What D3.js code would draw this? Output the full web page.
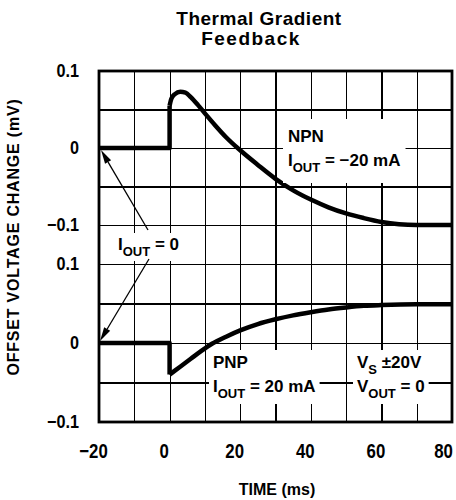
<!DOCTYPE html>
<html>
<head>
<meta charset="utf-8">
<script src="https://cdn.jsdelivr.net/npm/d3@7"></script>
<style>
body { margin: 0; background: #fff; }
svg { display: block; }
text { font-family: "Liberation Sans", Arial, sans-serif; font-weight: bold; fill: #000; }
.grid line { stroke: #000; stroke-width: 1.2; shape-rendering: crispEdges; }
.grid .domain { display: none; }
</style>
</head>
<body>
<div id="main"></div>
<script>
// tick and grid values
var xTicks = [-20, 0, 20, 40, 60, 80];
var xGrid = [-20, -10, 0, 10, 20, 30, 40, 50, 60, 70, 80];
var yTicks = [0.1, 0, -0.1];
var yGrid = [0.1, 0.05, 0, -0.05, -0.1];

// NPN, I_OUT = -20 mA (upper panel)
var npnStepTime = [-20, 0, 0];
var npnStepOffset = [0, 0, 0.055];
var npnTime = [0, 0.5, 1.5, 3, 4.5, 6, 8, 10, 13, 16, 20, 25, 30, 35, 40, 45, 50, 55, 60, 65, 70, 80];
var npnOffset = [0.055, 0.064, 0.07, 0.073, 0.072, 0.066, 0.056, 0.045, 0.029, 0.014, -0.003, -0.022, -0.04, -0.055, -0.067, -0.077, -0.085, -0.091, -0.096, -0.099, -0.1, -0.1];

// PNP, I_OUT = 20 mA (lower panel)
var pnpStepTime = [-20, 0, 0];
var pnpStepOffset = [0, 0, -0.04];
var pnpTime = [0, 3, 6, 9, 12, 16, 20, 25, 30, 35, 40, 45, 50, 55, 60, 70, 80];
var pnpOffset = [-0.04, -0.03, -0.02, -0.01, -0.001, 0.008, 0.016, 0.024, 0.03, 0.035, 0.039, 0.0425, 0.045, 0.047, 0.048, 0.049, 0.049];

var svg = d3.select("#main").append("svg")
	.attr("width", 456)
	.attr("height", 500);

var x = d3.scaleLinear().domain([-20, 80]).range([99, 452]);
var yTop = d3.scaleLinear().domain([-0.1, 0.1]).range([225, 71]);
var yBot = d3.scaleLinear().domain([-0.1, 0.1]).range([422, 264]);

var fmt = function(d) { return d < 0 ? "\u2212" + Math.abs(d) : String(d); };

// grid
svg.append("g").attr("class", "grid")
	.attr("transform", "translate(0,71)")
	.call(d3.axisBottom(x).tickValues(xGrid).tickSize(351).tickFormat(""));
[yTop, yBot].forEach(function(y) {
	svg.append("g").attr("class", "grid")
		.attr("transform", "translate(99,0)")
		.call(d3.axisRight(y).tickValues(yGrid).tickSize(353).tickFormat(""));
});

// frame
svg.append("rect")
	.attr("x", 99).attr("y", 71)
	.attr("width", 353).attr("height", 351)
	.attr("fill", "none").attr("stroke", "#000").attr("stroke-width", 2.8);

// tick labels (condensed look: squeeze horizontally)
[yTop, yBot].forEach(function(y) {
	var g = svg.append("g")
		.attr("transform", "translate(99,0)")
		.call(d3.axisLeft(y).tickValues(yTicks).tickSize(0).tickFormat(fmt));
	g.select(".domain").remove();
	g.selectAll("text")
		.style("font-size", "18px")
		.attr("x", -20 / 0.9)
		.attr("transform", "scale(0.9,1)");
});
var gx = svg.append("g")
	.attr("transform", "translate(0,422)")
	.call(d3.axisBottom(x).tickValues(xTicks).tickSize(0).tickPadding(21).tickFormat(fmt));
gx.select(".domain").remove();
gx.selectAll("text")
	.style("font-size", "21px")
	.attr("x", function(d) { return (d === 80 ? -9 : -6) / 0.8; })
	.attr("transform", "scale(0.8,1)");

// curves
function drawCurve(ts, vs, y, curve) {
	var pts = ts.map(function(t, i) { return [t, vs[i]]; });
	var line = d3.line()
		.x(function(d) { return x(d[0]); })
		.y(function(d) { return y(d[1]); })
		.curve(curve);
	svg.append("path")
		.attr("d", line(pts))
		.attr("fill", "none")
		.attr("stroke", "#000")
		.attr("stroke-width", 4.5)
		.attr("stroke-linejoin", "round");
}
drawCurve(npnStepTime, npnStepOffset, yTop, d3.curveLinear);
drawCurve(npnTime, npnOffset, yTop, d3.curveMonotoneX);
drawCurve(pnpStepTime, pnpStepOffset, yBot, d3.curveLinear);
drawCurve(pnpTime, pnpOffset, yBot, d3.curveMonotoneX);

// labels with white boxes
function label(px, py, lines, pad) {
	var g = svg.append("g");
	var bg = g.append("rect").attr("fill", "#fff");
	lines.forEach(function(parts, li) {
		var t = g.append("text")
			.attr("x", px).attr("y", py + li * 24)
			.style("font-size", "17px");
		var sub = false;
		parts.forEach(function(p) {
			var s = t.append("tspan").text(p.t);
			if (p.sub) {
				s.style("font-size", "13px").attr("dy", 6);
				sub = true;
			} else if (sub) {
				s.attr("dy", -6);
				sub = false;
			}
		});
	});
	var b = g.node().getBBox();
	bg.attr("x", b.x - pad[0]).attr("y", b.y - pad[1])
		.attr("width", b.width + 2 * pad[0]).attr("height", b.height + 2 * pad[1]);
}

label(288, 142, [[{t: "NPN"}], [{t: "I"}, {t: "OUT", sub: true}, {t: " = \u221220 mA"}]], [5, 8]);
label(118, 250, [[{t: "I"}, {t: "OUT", sub: true}, {t: " = 0"}]], [10, 2]);
label(213, 368, [[{t: "PNP"}], [{t: "I"}, {t: "OUT", sub: true}, {t: " = 20 mA"}]], [4, 3]);
label(357, 368, [[{t: "V"}, {t: "S", sub: true}, {t: " \u00b120V"}], [{t: "V"}, {t: "OUT", sub: true}, {t: " = 0"}]], [4, 3]);

// arrows from I_OUT = 0 to the start of each trace
function arrow(x0, y0, x1, y1) {
	var a = Math.atan2(y1 - y0, x1 - x0);
	var len = 14, hw = 3.5;
	var bx = x1 - len * Math.cos(a), by = y1 - len * Math.sin(a);
	svg.append("line")
		.attr("x1", x0).attr("y1", y0).attr("x2", bx).attr("y2", by)
		.attr("stroke", "#000").attr("stroke-width", 1.3);
	svg.append("path")
		.attr("d", "M" + x1 + "," + y1 +
			"L" + (bx + hw * Math.sin(a)) + "," + (by - hw * Math.cos(a)) +
			"L" + (bx - hw * Math.sin(a)) + "," + (by + hw * Math.cos(a)) + "Z")
		.attr("fill", "#000");
}
arrow(148, 230, x(-20) + 2, yTop(0) + 2);
arrow(149, 259, x(-20) + 1, yBot(0) - 2);

// titles
svg.append("text").attr("x", 259).attr("y", 25)
	.attr("text-anchor", "middle").style("font-size", "19px")
	.style("letter-spacing", "0.5px")
	.text("Thermal Gradient");
svg.append("text").attr("x", 251).attr("y", 45)
	.attr("text-anchor", "middle").style("font-size", "19px")
	.style("letter-spacing", "1.5px")
	.text("Feedback");

svg.append("text").attr("x", 277).attr("y", 495)
	.attr("text-anchor", "middle").style("font-size", "16px")
	.text("TIME (ms)");

svg.append("text")
	.attr("transform", "translate(19,237) rotate(-90)")
	.attr("text-anchor", "middle").style("font-size", "16px")
	.style("letter-spacing", "0.8px")
	.text("OFFSET VOLTAGE CHANGE (mV)");
</script>
</body>
</html>
